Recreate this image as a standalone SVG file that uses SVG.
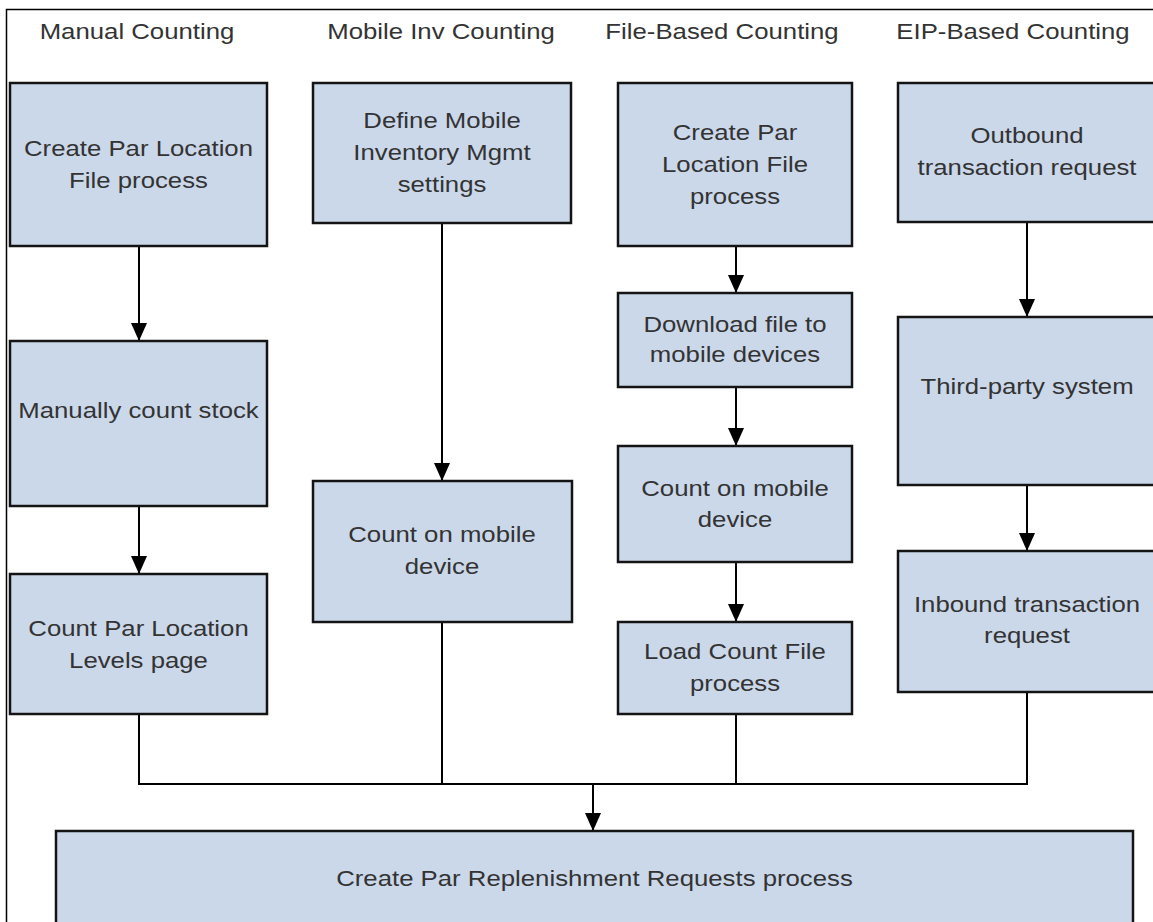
<svg xmlns="http://www.w3.org/2000/svg" width="1153" height="922" viewBox="0 0 1153 922">
<style>
.box{fill:#cbd8ea;stroke:#141414;stroke-width:2.5}
.t{font-family:"Liberation Sans",Arial,sans-serif;font-size:23px;fill:#333;text-anchor:middle}
.c{fill:none;stroke:#000;stroke-width:2}
.frame{fill:none;stroke:#000;stroke-width:1.5}
</style>
<defs>
<marker id="ah" viewBox="0 0 18 16" refX="18" refY="8" markerWidth="18" markerHeight="16" markerUnits="userSpaceOnUse" orient="auto">
<path d="M0,0 L18,8 L0,16 z" fill="#000"/>
</marker>
</defs>
<rect width="1153" height="922" fill="#fff"/>
<path class="frame" d="M6.5,922 V9.5 H1153"/>
<g id="headers">
<text class="t" transform="translate(137,0) scale(1.12,1)" x="0" y="39">Manual Counting</text>
<text class="t" transform="translate(441,0) scale(1.12,1)" x="0" y="39">Mobile Inv Counting</text>
<text class="t" transform="translate(722,0) scale(1.12,1)" x="0" y="39">File-Based Counting</text>
<text class="t" transform="translate(1013,0) scale(1.12,1)" x="0" y="39">EIP-Based Counting</text>
</g>
<g id="connectors">
<line class="c" x1="139" y1="246" x2="139" y2="341" marker-end="url(#ah)"/>
<line class="c" x1="139" y1="506" x2="139" y2="574" marker-end="url(#ah)"/>
<line class="c" x1="442" y1="223" x2="442" y2="481" marker-end="url(#ah)"/>
<line class="c" x1="736" y1="246" x2="736" y2="293" marker-end="url(#ah)"/>
<line class="c" x1="736" y1="387" x2="736" y2="446" marker-end="url(#ah)"/>
<line class="c" x1="736" y1="562" x2="736" y2="622" marker-end="url(#ah)"/>
<line class="c" x1="1027" y1="222" x2="1027" y2="317" marker-end="url(#ah)"/>
<line class="c" x1="1027" y1="485" x2="1027" y2="551" marker-end="url(#ah)"/>
<path class="c" d="M139,714 V784 H1027 V692"/>
<line class="c" x1="442" y1="622" x2="442" y2="784"/>
<line class="c" x1="736" y1="714" x2="736" y2="784"/>
<line class="c" x1="593" y1="784" x2="593" y2="831" marker-end="url(#ah)"/>
</g>
<g id="m1"><rect class="box" x="10" y="83" width="257" height="163"/>
<text class="t" transform="translate(138.5,0) scale(1.12,1)" y="156"><tspan x="0">Create Par Location</tspan><tspan x="0" dy="32">File process</tspan></text></g>
<g id="m2"><rect class="box" x="10" y="341" width="257" height="165"/>
<text class="t" transform="translate(138.5,0) scale(1.12,1)" x="0" y="418">Manually count stock</text></g>
<g id="m3"><rect class="box" x="10" y="574" width="257" height="140"/>
<text class="t" transform="translate(138.5,0) scale(1.12,1)" y="636"><tspan x="0">Count Par Location</tspan><tspan x="0" dy="32">Levels page</tspan></text></g>
<g id="mob1"><rect class="box" x="313" y="83" width="258" height="140"/>
<text class="t" transform="translate(442,0) scale(1.12,1)" y="128"><tspan x="0">Define Mobile</tspan><tspan x="0" dy="32">Inventory Mgmt</tspan><tspan x="0" dy="32">settings</tspan></text></g>
<g id="mob2"><rect class="box" x="313" y="481" width="259" height="141"/>
<text class="t" transform="translate(442,0) scale(1.12,1)" y="542"><tspan x="0">Count on mobile</tspan><tspan x="0" dy="32">device</tspan></text></g>
<g id="f1"><rect class="box" x="618" y="83" width="234" height="163"/>
<text class="t" transform="translate(735,0) scale(1.12,1)" y="140"><tspan x="0">Create Par</tspan><tspan x="0" dy="32">Location File</tspan><tspan x="0" dy="32">process</tspan></text></g>
<g id="f2"><rect class="box" x="618" y="293" width="234" height="94"/>
<text class="t" transform="translate(735,0) scale(1.12,1)" y="332"><tspan x="0">Download file to</tspan><tspan x="0" dy="30">mobile devices</tspan></text></g>
<g id="f3"><rect class="box" x="618" y="446" width="234" height="116"/>
<text class="t" transform="translate(735,0) scale(1.12,1)" y="496"><tspan x="0">Count on mobile</tspan><tspan x="0" dy="31">device</tspan></text></g>
<g id="f4"><rect class="box" x="618" y="622" width="234" height="92"/>
<text class="t" transform="translate(735,0) scale(1.12,1)" y="659"><tspan x="0">Load Count File</tspan><tspan x="0" dy="32">process</tspan></text></g>
<g id="e1"><rect class="box" x="898" y="83" width="258" height="139"/>
<text class="t" transform="translate(1027,0) scale(1.12,1)" y="143"><tspan x="0">Outbound</tspan><tspan x="0" dy="32">transaction request</tspan></text></g>
<g id="e2"><rect class="box" x="898" y="317" width="258" height="168"/>
<text class="t" transform="translate(1027,0) scale(1.12,1)" x="0" y="394">Third-party system</text></g>
<g id="e3"><rect class="box" x="898" y="551" width="258" height="141"/>
<text class="t" transform="translate(1027,0) scale(1.12,1)" y="612"><tspan x="0">Inbound transaction</tspan><tspan x="0" dy="31">request</tspan></text></g>
<g id="bottom"><rect class="box" x="56" y="831" width="1077" height="120"/>
<text class="t" transform="translate(594.5,0) scale(1.12,1)" x="0" y="886">Create Par Replenishment Requests process</text></g>
</svg>
